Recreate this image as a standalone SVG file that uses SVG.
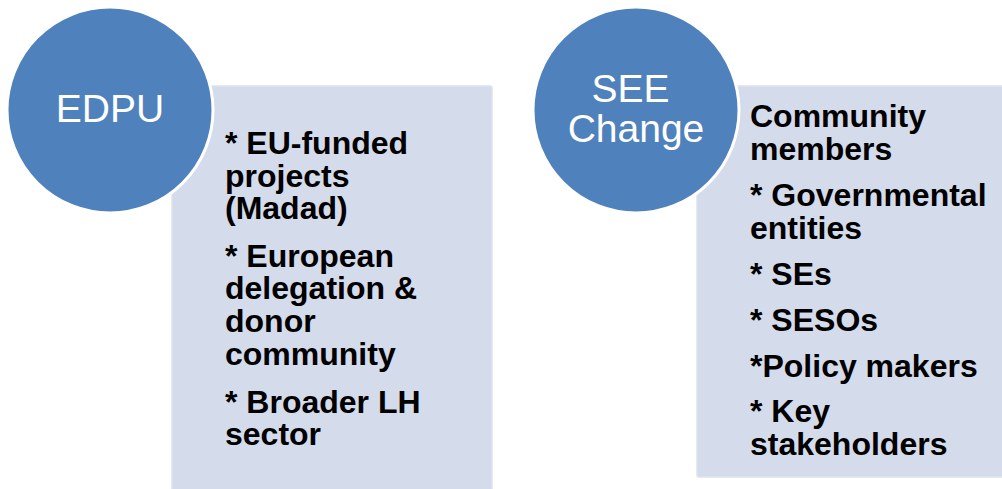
<svg xmlns="http://www.w3.org/2000/svg" width="1002" height="489" viewBox="0 0 1002 489">
  <style>
    .panel { fill: #D4DBEA; stroke: #DDE2EE; stroke-width: 1.5; }
    .disc { fill: #4F81BD; stroke: #FFFFFF; stroke-width: 3; }
    .title { font-family: "Liberation Sans", Arial, sans-serif; font-size: 39px; fill: #FFFFFF; text-anchor: middle; }
    .item { font-family: "Liberation Sans", Arial, sans-serif; font-size: 32px; font-weight: bold; fill: #000000; }
  </style>
  <rect width="1002" height="489" fill="#FFFFFF"/>

  <!-- EDPU: audience panel with title disc -->
  <g id="edpu">
    <rect class="panel" x="172" y="86" width="320" height="410" rx="2"/>
    <circle class="disc" cx="110" cy="110" r="103"/>
    <text class="title" x="110" y="122">EDPU</text>
    <text class="item">
      <tspan x="225" y="154">* EU-funded</tspan>
      <tspan x="225" y="186.5">projects</tspan>
      <tspan x="225" y="219">(Madad)</tspan>
      <tspan x="225" y="266.5">* European</tspan>
      <tspan x="225" y="299">delegation &amp;</tspan>
      <tspan x="225" y="332">donor</tspan>
      <tspan x="225" y="365">community</tspan>
      <tspan x="225" y="412.5">* Broader LH</tspan>
      <tspan x="225" y="445">sector</tspan>
    </text>
  </g>

  <!-- SEE Change: audience panel with title disc -->
  <g id="see-change">
    <rect class="panel" x="697" y="86" width="320" height="391" rx="2"/>
    <circle class="disc" cx="636" cy="110" r="103"/>
    <text class="title">
      <tspan x="636" y="102">SEE</tspan>
      <tspan x="636" y="142">Change</tspan>
    </text>
    <text class="item">
      <tspan x="750" y="127">Community</tspan>
      <tspan x="750" y="159.5">members</tspan>
      <tspan x="750" y="206">* Governmental</tspan>
      <tspan x="750" y="238.5">entities</tspan>
      <tspan x="750" y="285">* SEs</tspan>
      <tspan x="750" y="331">* SESOs</tspan>
      <tspan x="750" y="377">*Policy makers</tspan>
      <tspan x="750" y="422">* Key</tspan>
      <tspan x="750" y="454.5">stakeholders</tspan>
    </text>
  </g>

  <g id="connectors"/>
</svg>
